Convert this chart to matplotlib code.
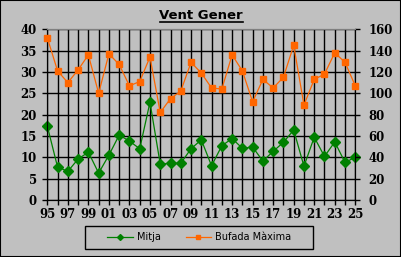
import numpy as np
import matplotlib.pyplot as plt
from matplotlib.lines import Line2D

years = list(range(1995, 2026))
mitja = [17.3, 7.7, 6.7, 9.6, 11.2, 6.3, 10.5, 15.2, 13.8, 12.0, 22.9,
         8.4, 8.6, 8.6, 12.0, 14.1, 8.0, 12.7, 14.4, 12.1, 12.4, 9.1,
         11.4, 13.5, 16.4, 7.9, 14.7, 10.2, 13.6, 8.8, 10.0]
bufada = [152, 121, 110, 122, 136, 100, 137, 127, 107, 111, 134,
          82, 95, 102, 129, 119, 105, 104, 136, 121, 92, 113,
          105, 115, 145, 89, 113, 118, 138, 129, 107]
xlabels = ["{:02d}".format(y % 100) for y in years]

bg = "#c0c0c0"
tickfont = {"family": "DejaVu Serif", "weight": "bold", "size": 8.5}


def main():
    fig = plt.figure(figsize=(4.01, 2.57), dpi=100, facecolor=bg)
    fig.patches.append(plt.Rectangle((0, 0), 1, 1, transform=fig.transFigure,
                                     fill=False, edgecolor="black", lw=1.5))
    ax = fig.add_axes([0.118, 0.222, 0.768, 0.664])
    ax.set_facecolor(bg)
    x = np.arange(len(years))

    ax.plot(x, mitja, color="#008000", lw=0.9, marker="D", ms=4.6,
            zorder=3, clip_on=False)
    ax.set_xlim(0, len(years) - 1)
    ax.set_ylim(0, 40)
    ax.set_yticks(range(0, 41, 5))
    ax.set_xticks(x)
    ax.set_xticklabels([l if i % 2 == 0 else "" for i, l in enumerate(xlabels)])
    ax.grid(True, color="black", lw=1)
    ax.set_axisbelow(True)

    ax2 = ax.twinx()
    ax2.plot(x, bufada, color="#ff6600", lw=0.9, marker="s", ms=5,
             zorder=3, clip_on=False)
    ax2.set_ylim(0, 160)
    ax2.set_yticks(range(0, 161, 20))

    for a in (ax, ax2):
        a.tick_params(direction="out", length=3.5, width=1, color="black", pad=2)
        for lab in a.get_xticklabels() + a.get_yticklabels():
            lab.set_fontproperties(tickfont)
        for s in ("left", "right", "bottom"):
            a.spines[s].set_color("black")
        a.spines["top"].set_color("#808080")
    ax.tick_params(axis="y", pad=4)
    ax2.tick_params(axis="y", pad=6)

    fig.text(0.5, 0.94, "Vent Gener", ha="center", va="center",
             fontsize=9.5, fontweight="bold", family="DejaVu Sans")
    fig.add_artist(Line2D([0.398, 0.606], [0.915, 0.915], color="black", lw=1.2))

    # legend box drawn by hand, entries placed inside it
    fig.patches.append(plt.Rectangle((85 / 401, 1 - 249 / 257), 228 / 401, 23 / 257,
                                     transform=fig.transFigure, fill=False,
                                     edgecolor="black", lw=1))
    handles = [Line2D([], [], color="#008000", marker="D", ms=3, lw=0.9),
               Line2D([], [], color="#ff6600", marker="s", ms=3, lw=0.9)]
    fig.legend(handles, ["Mitja", "Bufada Màxima"], loc="center",
               bbox_to_anchor=(0.497, 0.078), ncol=2, frameon=False,
               prop={"family": "DejaVu Sans", "size": 7}, columnspacing=2.6,
               handlelength=2.6, handletextpad=0.4)

    fig.savefig("out.png", dpi=100, facecolor=bg)


if __name__ == '__main__':
    main()
